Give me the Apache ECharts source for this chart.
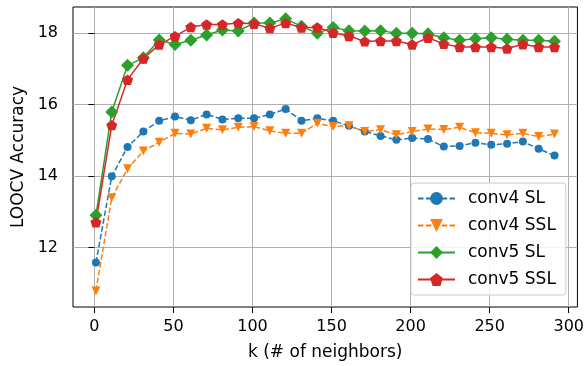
<!DOCTYPE html>
<html>
<head>
<meta charset="utf-8">
<script src="https://cdn.jsdelivr.net/npm/echarts@6/dist/echarts.min.js"></script>
<style>
  html, body { margin: 0; padding: 0; background: #fff; }
  #chart { width: 587px; height: 366px; }
</style>
</head>
<body>
<div id="chart"></div>
<script>
// k values (x)
const kValues = [1, 11, 21, 31, 41, 51, 61, 71, 81, 91, 101, 111, 121, 131, 141,
  151, 161, 171, 181, 191, 201, 211, 221, 231, 241, 251, 261, 271, 281, 291]

// LOOCV accuracy per series
const conv4SL = [11.58, 13.99, 14.81, 15.24, 15.54, 15.66, 15.56, 15.72, 15.58, 15.61,
  15.61, 15.72, 15.87, 15.54, 15.61, 15.54, 15.40, 15.24, 15.12, 15.01,
  15.06, 15.03, 14.82, 14.84, 14.93, 14.87, 14.90, 14.96, 14.76, 14.57]
const conv4SSL = [10.79, 13.39, 14.20, 14.70, 14.94, 15.19, 15.17, 15.33, 15.29, 15.36,
  15.38, 15.26, 15.19, 15.19, 15.47, 15.38, 15.40, 15.24, 15.29, 15.15,
  15.24, 15.31, 15.30, 15.36, 15.21, 15.19, 15.15, 15.19, 15.10, 15.17]
const conv5SL = [12.90, 15.79, 17.09, 17.30, 17.80, 17.67, 17.79, 17.94, 18.08, 18.05,
  18.27, 18.27, 18.39, 18.18, 17.99, 18.15, 18.06, 18.05, 18.06, 17.99,
  17.99, 17.97, 17.86, 17.79, 17.83, 17.86, 17.82, 17.79, 17.79, 17.76]
const conv5SSL = [12.71, 15.42, 16.69, 17.28, 17.67, 17.90, 18.16, 18.23, 18.23, 18.27,
  18.25, 18.13, 18.27, 18.15, 18.15, 18.00, 17.91, 17.76, 17.77, 17.77,
  17.67, 17.86, 17.69, 17.60, 17.60, 17.60, 17.56, 17.68, 17.60, 17.60]

const seriesNames = ['conv4 SL', 'conv4 SSL', 'conv5 SL', 'conv5 SSL']

const pentagon = 'path://M0,-1 L0.951,-0.309 L0.588,0.809 L-0.588,0.809 L-0.951,-0.309 Z'
const FONT = 'DejaVu Sans'

const toPairs = (ys) => kValues.map((k, i) => [k, ys[i]])

const makeSeries = (name, ys, color, opts) => ({
  name: name,
  type: 'line',
  data: toPairs(ys),
  color: color,
  symbol: opts.symbol,
  symbolSize: opts.size,
  symbolRotate: opts.rotate || 0,
  symbolKeepAspect: true,
  showAllSymbol: true,
  lineStyle: { color: color, width: 1.5, type: opts.dashed ? [5.5, 2.4] : 'solid' },
  itemStyle: { color: color, borderWidth: 0 },
  emphasis: { disabled: true }
})

const chart = echarts.init(document.getElementById('chart'), null, { renderer: 'canvas' })

const axisText = { color: '#000', fontFamily: FONT, fontSize: 16 }
const hideOdd = (step) => (v) => (Math.abs(v / step - Math.round(v / step)) < 1e-6 ? String(Math.round(v)) : '')

chart.setOption({
  animation: false,
  backgroundColor: '#fff',
  grid: {
    left: 73, right: 9, top: 7, bottom: 58,
    show: true, borderColor: '#000', borderWidth: 1, backgroundColor: 'transparent'
  },
  legend: {
    data: seriesNames,
    orient: 'vertical',
    left: 411,
    top: 183,
    padding: [7, 10, 7, 6],
    itemWidth: 37,
    itemHeight: 16,
    itemGap: 10,
    backgroundColor: 'rgba(255,255,255,0.85)',
    borderColor: '#cccccc',
    borderWidth: 1,
    borderRadius: 3,
    textStyle: { color: '#000', fontFamily: FONT, fontSize: 17, padding: [0, 0, 0, 8] }
  },
  xAxis: {
    type: 'value',
    min: -13.5,
    max: 305.5,
    minInterval: 50,
    maxInterval: 50,
    name: 'k (# of neighbors)',
    nameLocation: 'middle',
    nameGap: 37,
    nameTextStyle: { color: '#000', fontFamily: FONT, fontSize: 17 },
    axisLine: { show: false },
    axisTick: { show: true, length: 6, lineStyle: { color: '#000', width: 1 } },
    axisLabel: Object.assign({ margin: 12, showMinLabel: false, showMaxLabel: false, formatter: hideOdd(50) }, axisText),
    splitLine: { show: true, showMinLine: false, showMaxLine: false, lineStyle: { color: '#b0b0b0', width: 1 } }
  },
  yAxis: {
    type: 'value',
    min: 10.34,
    max: 18.72,
    minInterval: 2,
    maxInterval: 2,
    name: 'LOOCV Accuracy',
    nameLocation: 'middle',
    nameGap: 45,
    nameTextStyle: { color: '#000', fontFamily: FONT, fontSize: 17 },
    axisLine: { show: false },
    axisTick: { show: true, length: 6, lineStyle: { color: '#000', width: 1 } },
    axisLabel: Object.assign({ margin: 15, showMinLabel: false, showMaxLabel: false, formatter: hideOdd(2) }, axisText),
    splitLine: { show: true, showMinLine: false, showMaxLine: false, lineStyle: { color: '#b0b0b0', width: 1 } }
  },
  series: [
    makeSeries(seriesNames[0], conv4SL, '#1f77b4', { symbol: 'circle', size: 8, dashed: true }),
    makeSeries(seriesNames[1], conv4SSL, '#ff7f0e', { symbol: 'triangle', size: 9, rotate: 180, dashed: true }),
    makeSeries(seriesNames[2], conv5SL, '#2ca02c', { symbol: 'diamond', size: 13 }),
    makeSeries(seriesNames[3], conv5SSL, '#d62728', { symbol: pentagon, size: 11 })
  ]
})
</script>
</body>
</html>
